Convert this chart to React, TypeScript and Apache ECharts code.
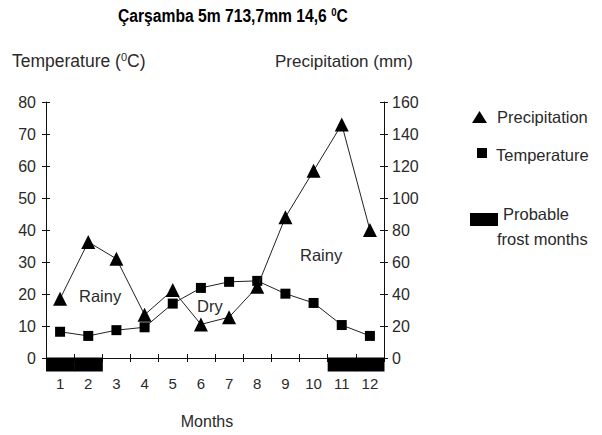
import React, { useEffect, useRef } from "react";
import * as echarts from "echarts";

const months = ["1", "2", "3", "4", "5", "6", "7", "8", "9", "10", "11", "12"];
const temperature = [8.2, 6.9, 8.7, 9.6, 17.0, 21.9, 23.8, 24.1, 20.1, 17.2, 10.3, 6.9];
const precipitation = [37, 72.5, 62, 27, 42.5, 21, 25.5, 44.5, 88, 117, 146, 80];
const frostMonths = ["1", "2", "11", "12"];
const tempTicks = { min: 0, max: 80, interval: 10 };
const precTicks = { min: 0, max: 160, interval: 20 };

const FONT = "'Liberation Sans', Arial, sans-serif";
const TXT = "#2a2a2a";

const txt = (text: string, x: number, y: number, size: number, extra: any = {}) => ({
  type: "text",
  style: { text, x, y, fontFamily: FONT, fontSize: size, fill: TXT, verticalAlign: "middle", align: "left", ...extra },
});

export default function App() {
  const ref = useRef<HTMLDivElement>(null);
  useEffect(() => {
    document.body.style.margin = "0";
    if (!ref.current) return;
    const chart = echarts.init(ref.current, null, { renderer: "svg" });
    const axisLine = { show: true, lineStyle: { color: "#111", width: 1 } };
    const tickOut = { show: true, length: 4, lineStyle: { color: "#111" } };
    const tickIn = { show: true, inside: true, length: 4, lineStyle: { color: "#111" } };
    const label = { color: TXT, fontFamily: FONT, fontSize: 16 };
    chart.setOption({
      animation: false,
      backgroundColor: "#fff",
      grid: { left: 46, right: 218, top: 102, bottom: 77, containLabel: false },
      xAxis: [
        {
          type: "category",
          data: months,
          boundaryGap: true,
          axisLine,
          axisTick: tickOut,
          axisLabel: { ...label, fontSize: 15, margin: 18 },
          name: "Months",
          nameLocation: "middle",
          nameGap: 55,
          nameTextStyle: { color: TXT, fontFamily: FONT, fontSize: 16, padding: [0, 16, 0, 0] },
        },
        {
          type: "category",
          data: months,
          position: "bottom",
          boundaryGap: true,
          axisLine: { show: false },
          axisTick: tickIn,
          axisLabel: { show: false },
        },
      ],
      yAxis: [
        {
          type: "value",
          position: "left",
          ...tempTicks,
          axisLine,
          axisTick: tickOut,
          splitLine: { show: false },
          axisLabel: { ...label, margin: 10 },
        },
        {
          type: "value",
          position: "right",
          ...precTicks,
          axisLine,
          axisTick: tickOut,
          splitLine: { show: false },
          axisLabel: { ...label, margin: 8 },
        },
        {
          type: "value",
          position: "left",
          ...tempTicks,
          axisLine: { show: false },
          axisTick: tickIn,
          splitLine: { show: false },
          axisLabel: { show: false },
        },
        {
          type: "value",
          position: "right",
          ...precTicks,
          axisLine: { show: false },
          axisTick: tickIn,
          splitLine: { show: false },
          axisLabel: { show: false },
        },
      ],
      series: [
        {
          name: "Temperature",
          type: "line",
          yAxisIndex: 0,
          data: temperature,
          symbol: "rect",
          symbolSize: 10,
          lineStyle: { color: "#222", width: 1 },
          itemStyle: { color: "#000" },
          z: 3,
        },
        {
          name: "Precipitation",
          type: "line",
          yAxisIndex: 1,
          data: precipitation,
          symbol: "triangle",
          symbolSize: 14,
          lineStyle: { color: "#222", width: 1 },
          itemStyle: { color: "#000" },
          z: 4,
        },
        {
          name: "Probable frost months",
          type: "custom",
          yAxisIndex: 0,
          data: frostMonths.map((m) => [m, 0]),
          clip: false,
          z: 5,
          renderItem: (params: any, api: any) => {
            const p = api.coord([api.value(0), 0]);
            const w = api.size([1, 0])[0];
            return {
              type: "rect",
              shape: { x: p[0] - w / 2, y: p[1] - 0.5, width: w + 0.5, height: 14 },
              style: { fill: "#000" },
            };
          },
        },
      ],
      graphic: [
        {
          type: "text",
          x: 118,
          y: 16,
          scaleX: 0.87,
          style: {
            text: "{b|Çarşamba 5m 713,7mm 14,6 }{s|0}{b|C}",
            x: 0,
            y: 0,
            verticalAlign: "middle",
            rich: {
              b: { fontFamily: FONT, fontWeight: "bold", fontSize: 18, fill: "#000" },
              s: { fontFamily: FONT, fontWeight: "bold", fontSize: 11, fill: "#000", padding: [0, 0, 7, 0] },
            },
          },
        },
        {
          type: "text",
          style: {
            text: "{a|Temperature (}{s|0}{a|C)}",
            x: 12,
            y: 61,
            verticalAlign: "middle",
            rich: {
              a: { fontFamily: FONT, fontSize: 17.5, fill: TXT },
              s: { fontFamily: FONT, fontSize: 11, fill: TXT, padding: [0, 0, 8, 0] },
            },
          },
        },
        txt("Precipitation (mm)", 275, 61, 17),
        txt("Rainy", 79, 296, 16.5),
        txt("Dry", 197, 306, 16.5),
        txt("Rainy", 300, 255, 16.5),
        {
          type: "polygon",
          shape: { points: [[472, 123], [487, 123], [479.5, 111]] },
          style: { fill: "#000" },
        },
        txt("Precipitation", 497, 117, 16.5),
        { type: "rect", shape: { x: 477, y: 148, width: 10, height: 10 }, style: { fill: "#000" } },
        txt("Temperature", 496, 155, 16.5),
        { type: "rect", shape: { x: 470, y: 213, width: 28, height: 13 }, style: { fill: "#000" } },
        txt("Probable", 503, 214, 16.5),
        txt("frost months", 497, 239, 16.5),
      ],
    });
    return () => chart.dispose();
  }, []);
  return <div ref={ref} style={{ width: 602, height: 435 }} />;
}
